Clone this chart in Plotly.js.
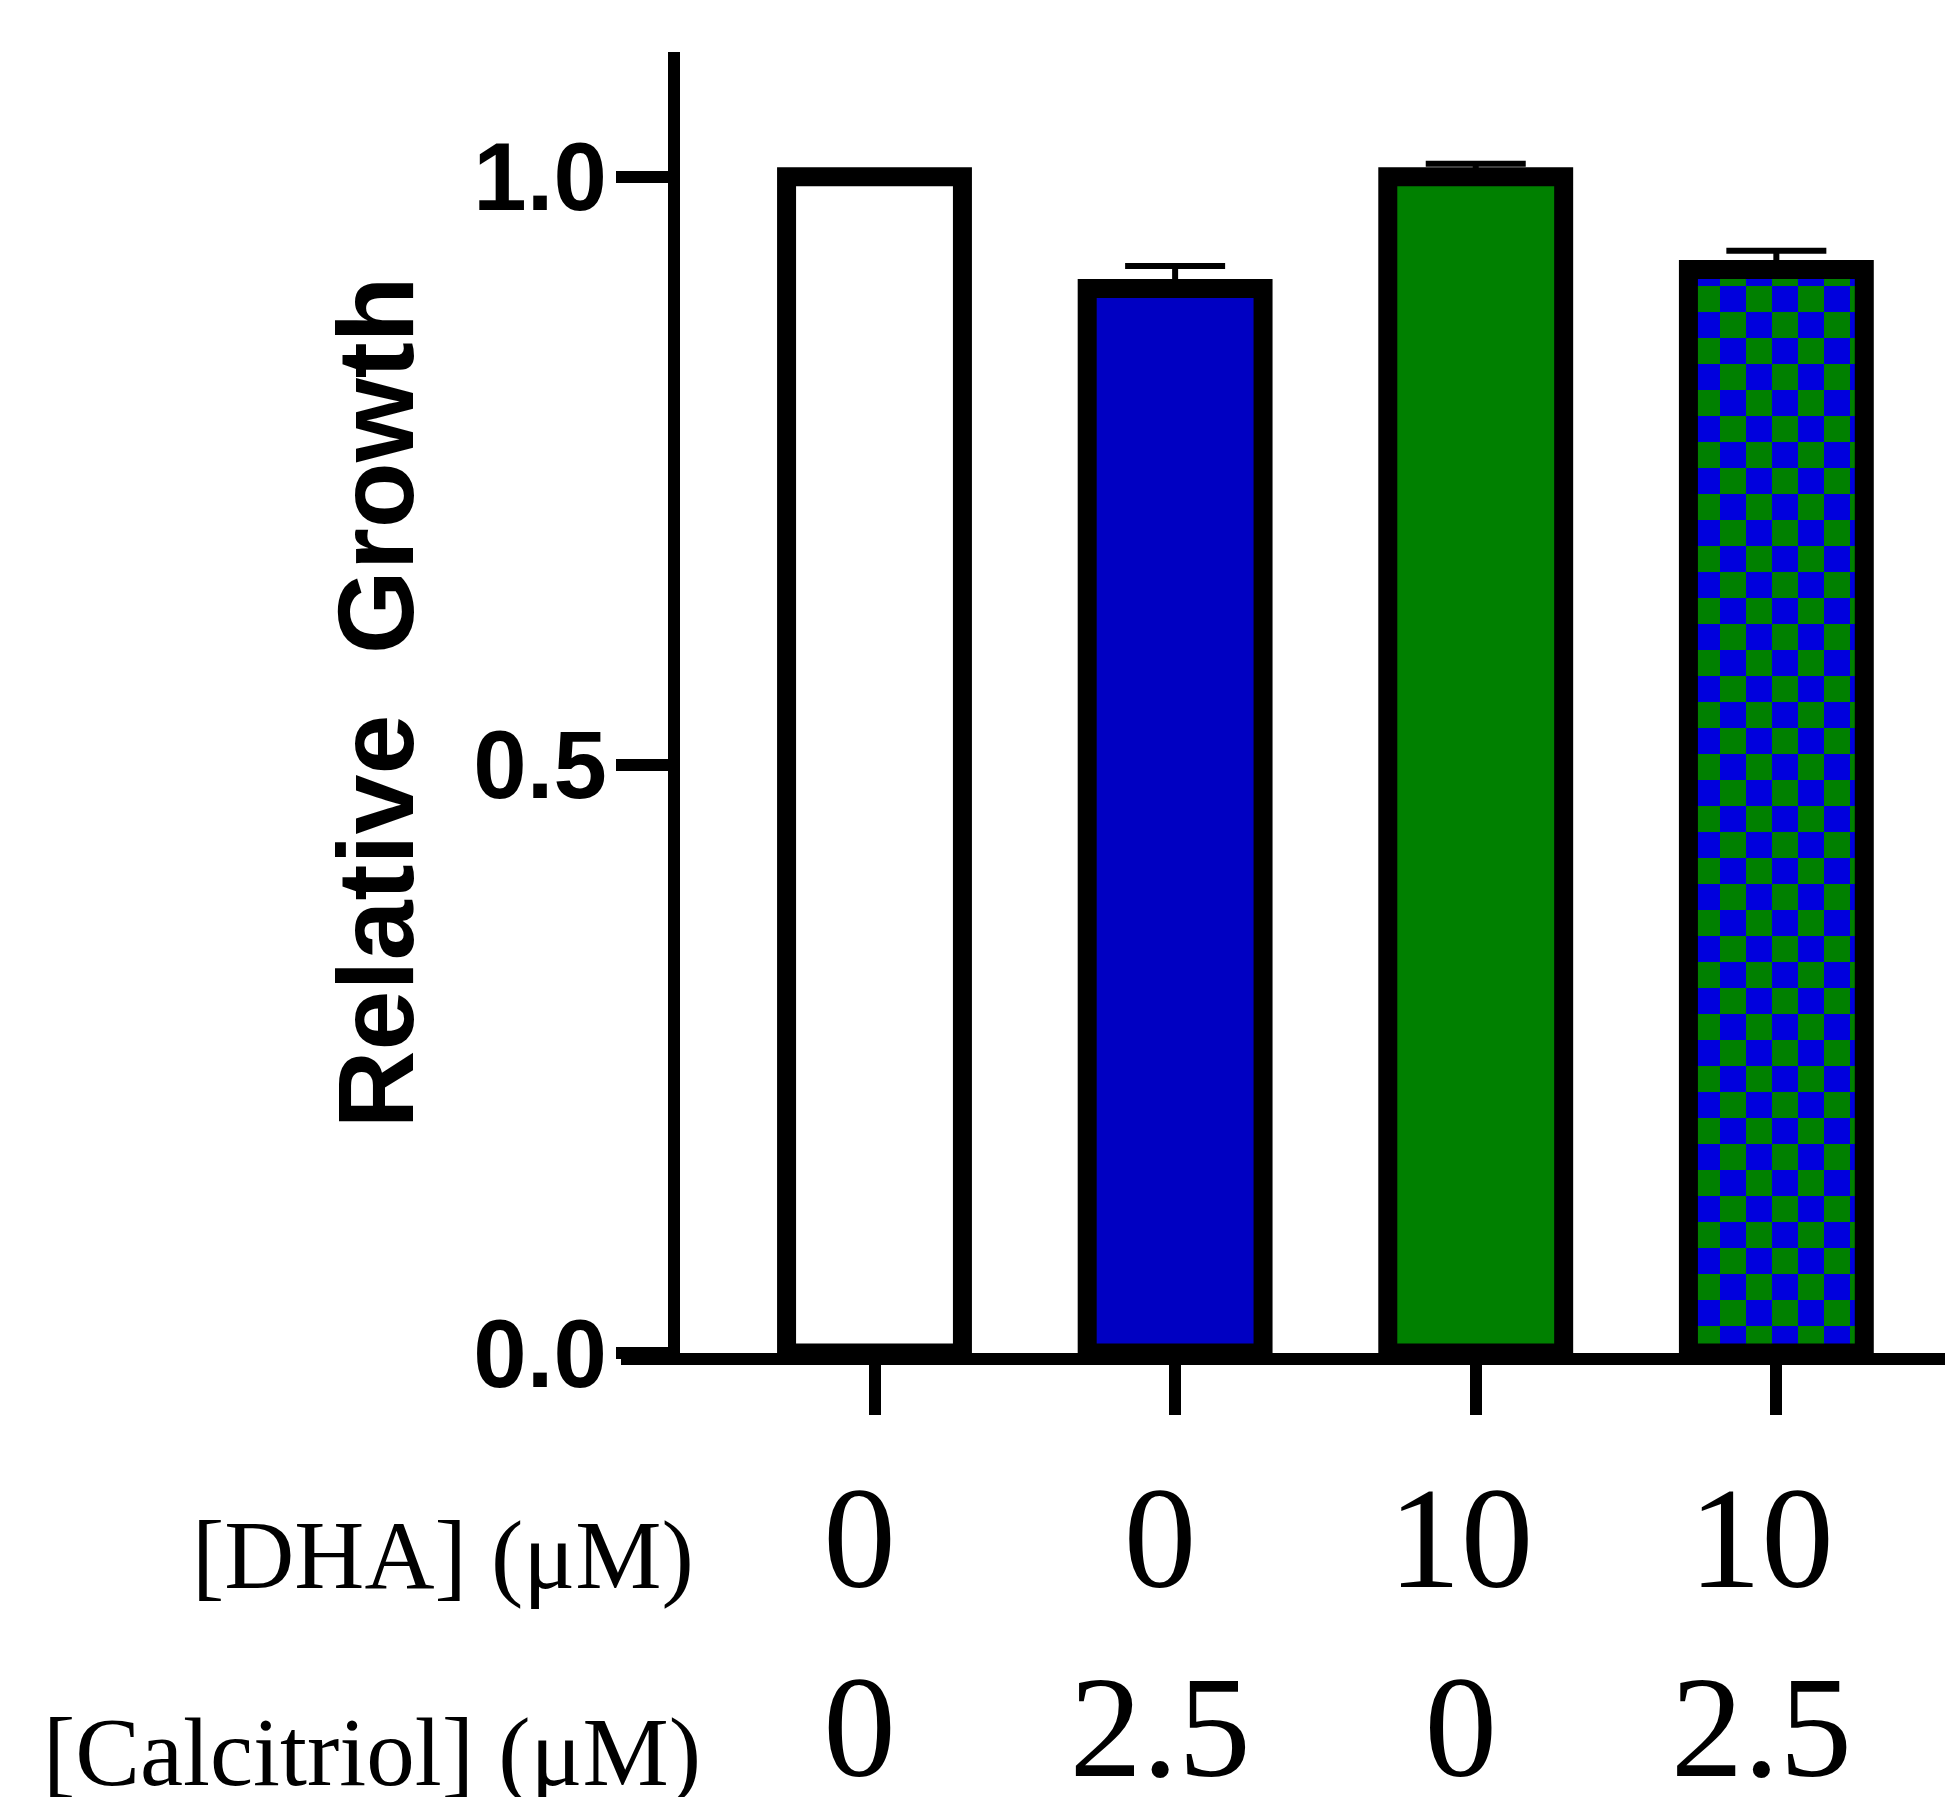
<!DOCTYPE html>
<html>
<head>
<meta charset="utf-8">
<script src="https://cdn.plot.ly/plotly-3.0.1.min.js"></script>
<style>
html,body{margin:0;padding:0;background:#fff;}
#chart{width:1945px;height:1797px;}
</style>
</head>
<body>
<div id="chart"></div>
<script>
// ---- data ----
const groups = [0, 1, 2, 3];
const dhaLabels = ['0', '0', '10', '10'];
const calcitriolLabels = ['0', '2.5', '0', '2.5'];
const rowLabels = ['[DHA] (μM)', '[Calcitriol] (μM)'];
const relativeGrowth = [1.0, 0.905, 1.0, 0.921];
const growthSem = [0, 0.019, 0.011, 0.016];
const barColors = ['#ffffff', '#0000c2', '#008000', '#0000dd'];
const yTickVals = [0, 0.5, 1.0];
const yTickText = ['0.0', '0.5', '1.0'];

const tickText = groups.map((g, i) => dhaLabels[i] + '<br>' + calcitriolLabels[i]);

const trace = {
  type: 'bar',
  x: groups,
  y: relativeGrowth,
  width: 0.585,
  marker: {
    color: barColors,
    line: {color: '#000000', width: 19},
    pattern: {
      shape: ['', '', '', '.'],
      fillmode: 'replace',
      bgcolor: '#0000dd',
      fgcolor: '#008000',
      size: 52,
      solidity: 0.5
    }
  },
  error_y: {
    type: 'data',
    symmetric: false,
    array: growthSem,
    arrayminus: growthSem.map(() => 0),
    color: '#000000',
    thickness: 6,
    width: 50
  },
  hoverinfo: 'skip'
};

const L = 680, T = 52, W = 1945, H = 1797, B = 444;
const plotW = W - L, plotH = H - T - B;

const layout = {
  width: W, height: H,
  margin: {l: L, r: 0, t: T, b: B, pad: 0},
  paper_bgcolor: '#ffffff',
  plot_bgcolor: '#ffffff',
  showlegend: false,
  xaxis: {
    range: [-0.647, 3.561],
    tickvals: groups,
    ticktext: tickText,
    ticks: 'outside',
    ticklen: 50,
    tickwidth: 12,
    tickcolor: '#000000',
    showline: true,
    linewidth: 12,
    linecolor: '#000000',
    showgrid: false,
    zeroline: false,
    tickfont: {family: 'Liberation Serif', size: 145, color: '#000000'},
    ticklabelstandoff: -2,
    ticklabelshift: -15,
    fixedrange: true
  },
  yaxis: {
    range: [0, 1.106],
    tickvals: yTickVals,
    ticktext: yTickText,
    ticks: 'outside',
    ticklen: 52,
    tickwidth: 12,
    tickcolor: '#000000',
    showline: true,
    linewidth: 12,
    linecolor: '#000000',
    showgrid: false,
    zeroline: false,
    tickfont: {family: 'Liberation Sans', size: 96, color: '#000000', weight: 'bold'},
    ticklabelstandoff: -10,
    title: {
      text: 'Relative\u00a0\u00a0Growth',
      font: {family: 'Liberation Sans', size: 108, color: '#000000', weight: 'bold'},
      standoff: 29
    },
    fixedrange: true
  },
  shapes: [{
    type: 'line', xref: 'paper', yref: 'paper',
    x0: -59 / plotW, x1: 0, y0: -6 / plotH, y1: -6 / plotH,
    line: {color: '#000000', width: 12}
  }],
  annotations: [
    {text: rowLabels[0], xref: 'paper', yref: 'paper', x: 16 / plotW, y: -(1555 - (T + plotH)) / plotH,
     xanchor: 'right', yanchor: 'middle', showarrow: false,
     font: {family: 'Liberation Serif', size: 97, color: '#000000'}},
    {text: rowLabels[1], xref: 'paper', yref: 'paper', x: 23 / plotW, y: -(1752 - (T + plotH)) / plotH,
     xanchor: 'right', yanchor: 'middle', showarrow: false,
     font: {family: 'Liberation Serif', size: 97, color: '#000000'}}
  ]
};

Plotly.newPlot('chart', [trace], layout, {displayModeBar: false, staticPlot: true}).then(gd => {
  // turn the dot pattern into a blue/green checkerboard
  const NS = 'http://www.w3.org/2000/svg';
  gd.querySelectorAll('pattern').forEach(p => {
    const cell = 26;
    p.setAttribute('width', 2 * cell);
    p.setAttribute('height', 2 * cell);
    p.removeAttribute('patternTransform');
    while (p.firstChild) p.removeChild(p.firstChild);
    const mk = (x, y, w, h, c) => {
      const r = document.createElementNS(NS, 'rect');
      r.setAttribute('x', x); r.setAttribute('y', y);
      r.setAttribute('width', w); r.setAttribute('height', h);
      r.setAttribute('fill', c);
      p.appendChild(r);
    };
    mk(0, 0, 2 * cell, 2 * cell, '#0000dd');
    mk(0, 0, cell, cell, '#008000');
    mk(cell, cell, cell, cell, '#008000');
  });
});
</script>
</body>
</html>
